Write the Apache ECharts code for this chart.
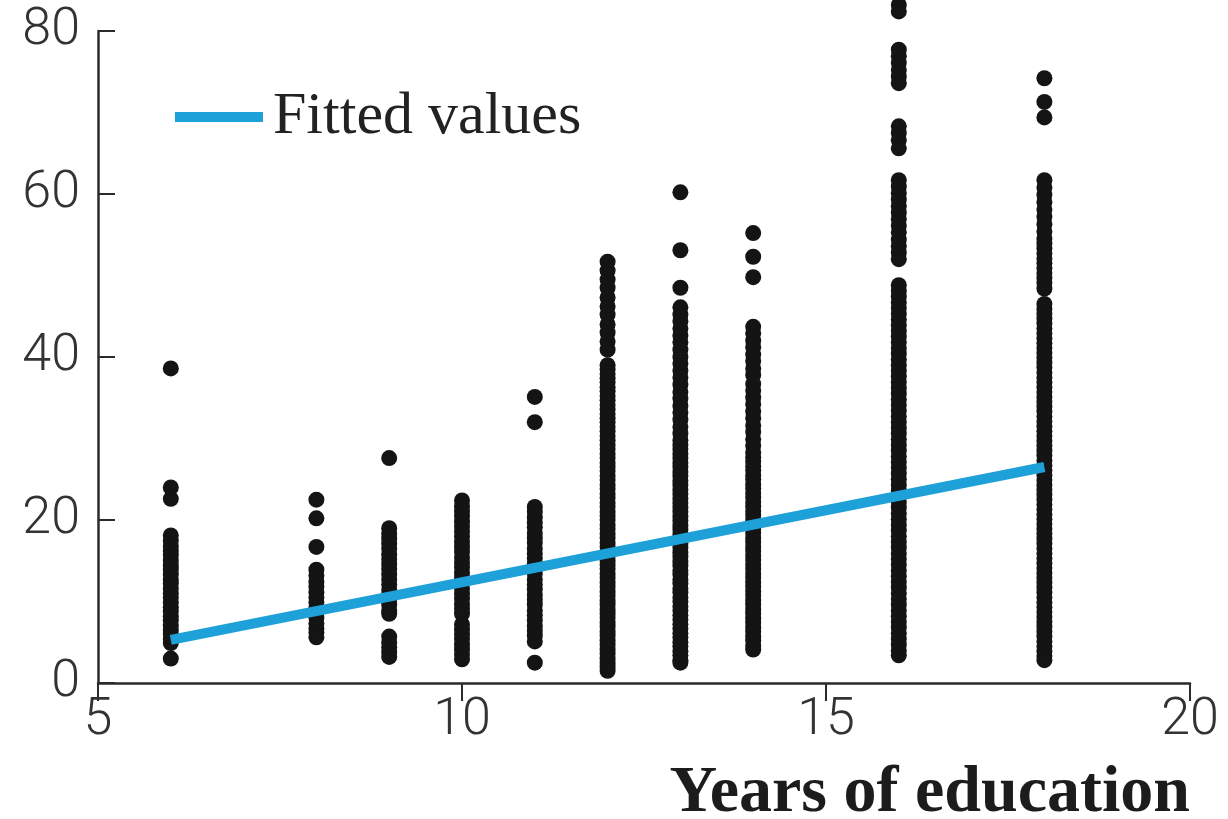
<!DOCTYPE html>
<html>
<head>
<meta charset="utf-8">
<title>Earnings and years of education</title>
<script src="https://cdn.jsdelivr.net/npm/echarts@6/dist/echarts.min.js"></script>
<style>
  html, body { margin: 0; padding: 0; background: #ffffff; }
  #chart { width: 1228px; height: 819px; }
</style>
</head>
<body>
<div id="chart"></div>
<script>
// Hourly earnings observed at each level of schooling
const years = [6, 8, 9, 10, 11, 12, 13, 14, 16, 18];

const earn6 = [38.6, 24.0, 22.6, 18.1, 17.5, 16.8, 16.2, 15.7, 15.0, 14.4, 13.9, 13.3, 12.7, 12.2, 11.6,
  11.0, 10.5, 9.9, 9.3, 8.8, 8.2, 7.7, 7.1, 6.5, 6.0, 5.4, 4.9, 3.0];
const earn8 = [22.5, 20.2, 16.7, 13.9, 13.2, 12.4, 11.8, 11.1, 10.5, 9.9, 9.2, 8.6, 8.0, 7.3, 6.7,
  6.2, 5.6];
const earn9 = [27.6, 19.0, 18.3, 17.7, 17.1, 16.5, 15.8, 15.2, 14.6, 14.0, 13.3, 12.7, 12.1, 11.4,
  10.8, 10.2, 9.6, 8.9, 8.5, 5.7, 5.0, 4.4, 3.8, 3.2];
const earn10 = [22.4, 21.7, 21.1, 20.5, 19.8, 19.2, 18.6, 18.0, 17.3, 16.7, 16.1, 15.4, 14.8, 14.2,
  13.5, 12.9, 12.3, 11.6, 11.0, 10.4, 9.7, 9.1, 8.5, 7.2, 6.6, 6.0, 5.4, 4.7, 4.1, 3.5, 2.9];
const earn11 = [35.1, 32.0, 21.6, 21.0, 20.3, 19.7, 19.1, 18.4, 17.8, 17.2, 16.5, 15.9, 15.3, 14.6,
  14.0, 13.4, 12.7, 12.1, 11.5, 10.8, 10.2, 9.6, 8.9, 8.3, 7.7, 7.0, 6.4, 5.8, 5.1, 2.5];
const earn12 = [51.7, 50.6, 49.5, 48.5, 47.3, 46.2, 45.2, 44.0, 43.0, 41.9, 40.9,
  39.0, 38.5, 37.9, 37.4, 36.9, 36.3, 35.8, 35.2, 34.7, 34.1, 33.6, 33.0, 32.5, 32.0, 31.4, 30.9,
  30.3, 29.8, 29.2, 28.7, 28.1, 27.6, 27.0, 26.5, 26.0, 25.4, 24.9, 24.3, 23.8, 23.2, 22.7, 22.1,
  21.6, 21.0, 20.5, 20.0, 19.4, 18.9, 18.3, 17.8, 17.2, 16.7, 16.1, 15.6, 15.0, 14.5, 14.0, 13.4,
  12.9, 12.3, 11.8, 11.2, 10.7, 10.1, 9.6, 9.0, 8.5, 8.0, 7.4, 6.9, 6.3, 5.8, 5.2, 4.7, 4.1, 3.6,
  3.0, 2.5, 2.0, 1.5];
const earn13 = [60.2, 53.1, 48.5, 46.1, 45.2, 44.4, 43.5, 42.6, 41.8, 40.9, 40.0, 39.2, 38.3, 37.5,
  36.6, 35.7, 34.9, 34.0, 33.2, 32.3, 31.4, 30.6, 29.8, 29.2, 28.7, 28.1, 27.6, 27.0, 26.5, 25.9,
  25.4, 24.8, 24.3, 23.7, 23.2, 22.6, 22.1, 21.5, 21.0, 20.4, 19.9, 19.3, 18.8, 18.2, 17.7, 17.1,
  16.6, 16.0, 15.5, 14.9, 14.4, 13.8, 13.3, 12.7, 12.2, 11.6, 11.1, 10.5, 10.0, 9.4, 8.9, 8.3,
  7.8, 7.2, 6.7, 6.1, 5.6, 5.0, 4.5, 3.9, 3.4, 2.8, 2.5];
const earn14 = [55.2, 52.3, 49.8, 43.7, 42.9, 42.0, 41.2, 40.3, 39.5, 38.6, 37.8, 36.7, 35.9, 35.0,
  34.2, 33.3, 32.5, 31.6, 30.8, 29.9, 29.1, 28.3, 27.7, 27.2, 26.6, 26.1, 25.5, 25.0, 24.4, 23.9,
  23.3, 22.8, 22.2, 21.7, 21.1, 20.6, 20.0, 19.5, 18.9, 18.4, 17.8, 17.3, 16.7, 16.2, 15.6, 15.1,
  14.5, 14.0, 13.4, 12.9, 12.3, 11.8, 11.2, 10.7, 10.1, 9.6, 9.0, 8.5, 7.9, 7.4, 6.8, 6.3, 5.7,
  5.2, 4.6, 4.1];
const earn16 = [83.2, 82.4, 77.7, 76.9, 76.1, 75.2, 74.4, 73.6, 68.3, 67.5, 66.6, 65.6,
  61.7, 60.9, 60.1, 59.3, 58.5, 57.7, 56.9, 56.1, 55.3, 54.4, 53.6, 52.8, 52.0,
  48.8, 48.1, 47.4, 46.7, 46.0, 45.3, 44.6, 43.9, 43.2, 42.5, 41.8, 41.1, 40.4, 39.7, 39.0, 38.3,
  37.6, 36.9, 36.2, 35.5, 34.8, 34.1, 33.4, 32.7, 32.0, 31.3, 30.6, 29.9, 29.2, 28.5, 27.8, 27.1,
  26.4, 25.7, 25.0, 24.3, 23.6, 22.9, 22.2, 21.5, 20.8, 20.1, 19.4, 18.7, 18.0, 17.3, 16.6, 15.9,
  15.2, 14.5, 13.8, 13.1, 12.4, 11.7, 11.0, 10.3, 9.6, 8.9, 8.2, 7.5, 6.8, 6.1, 5.4, 4.7, 4.0, 3.4];
const earn18 = [74.2, 71.3, 69.4, 61.7, 60.8, 59.9, 59.0, 58.1, 57.2, 56.3, 55.4, 54.5, 53.9, 53.3,
  52.7, 52.1, 51.5, 50.9, 50.3, 49.7, 49.1, 48.4, 46.5, 45.9, 45.3, 44.7, 44.1, 43.5, 42.9, 42.3,
  41.7, 41.1, 40.5, 39.9, 39.3, 38.7, 38.1, 37.5, 36.9, 36.3, 35.7, 35.1, 34.5, 33.9, 33.3, 32.7,
  32.1, 31.5, 30.9, 30.3, 29.7, 29.1, 28.5, 27.9, 27.3, 26.7, 26.1, 25.5, 24.9, 24.3, 23.7, 23.1,
  22.5, 21.9, 21.3, 20.7, 20.1, 19.5, 18.9, 18.3, 17.7, 17.1, 16.5, 15.9, 15.3, 14.7, 14.1, 13.5,
  12.9, 12.3, 11.7, 11.1, 10.5, 9.9, 9.3, 8.7, 8.1, 7.5, 6.9, 6.3, 5.7, 5.1, 4.5, 3.9, 3.3, 2.8];

const earningsByYear = [earn6, earn8, earn9, earn10, earn11, earn12, earn13, earn14, earn16, earn18];

// Least-squares fit endpoints
const fitYears = [6, 18];
const fitValues = [5.3, 26.5];

const xTicks = [5, 10, 15, 20];
const yTicks = [0, 20, 40, 60, 80];

const scatterData = [];
years.forEach((yr, i) => {
  earningsByYear[i].forEach(v => scatterData.push([yr, v]));
});
const fitData = fitYears.map((x, i) => [x, fitValues[i]]);

const fitColor = '#1ea1d8';
const inkColor = '#2a2a2a';
const labelFont = 'Roboto, "Open Sans", sans-serif';

const chart = echarts.init(document.getElementById('chart'), null, { renderer: 'canvas' });
chart.setOption({
  backgroundColor: '#ffffff',
  animation: false,
  grid: {
    left: 98, right: 38, top: 31, bottom: 136,
    containLabel: false,
    outerBoundsMode: 'none'
  },
  legend: {
    data: ['Fitted values'],
    left: 170,
    top: 82,
    icon: 'rect',
    itemWidth: 88,
    itemHeight: 10,
    selectedMode: false,
    textStyle: {
      fontFamily: '"Liberation Serif", serif',
      fontSize: 60,
      fontWeight: 'normal',
      color: '#222',
      lineHeight: 60,
      padding: [0, 0, 0, 5]
    }
  },
  xAxis: {
    type: 'value',
    min: xTicks[0],
    max: xTicks[xTicks.length - 1],
    interval: 5,
    name: 'Years of education',
    nameLocation: 'end',
    nameGap: 0,
    nameTextStyle: {
      fontFamily: '"Liberation Serif", serif',
      fontWeight: 'bold',
      fontSize: 66,
      color: '#1c1c1c',
      align: 'right',
      verticalAlign: 'top',
      padding: [78, 0, 0, 0]
    },
    splitLine: { show: false },
    axisLine: { show: true, lineStyle: { color: inkColor, width: 2.5 } },
    axisTick: { show: true, inside: false, length: 18, lineStyle: { color: inkColor, width: 2 } },
    axisLabel: {
      margin: 12,
      fontFamily: labelFont,
      fontWeight: 300,
      fontSize: 52,
      color: '#333',
      formatter: v => (xTicks.includes(v) ? String(v) : '')
    }
  },
  yAxis: {
    type: 'value',
    min: yTicks[0],
    max: yTicks[yTicks.length - 1],
    interval: 20,
    splitLine: { show: false },
    axisLine: { show: true, lineStyle: { color: inkColor, width: 2.5 } },
    axisTick: { show: true, inside: true, length: 17, lineStyle: { color: inkColor, width: 2 } },
    axisLabel: {
      margin: 18,
      fontFamily: labelFont,
      fontWeight: 300,
      fontSize: 52,
      color: '#333',
      formatter: v => (yTicks.includes(v) ? String(v) : '')
    }
  },
  series: [
    {
      name: 'Earnings',
      type: 'scatter',
      data: scatterData,
      symbol: 'circle',
      symbolSize: 16,
      clip: false,
      itemStyle: { color: '#141414', opacity: 1 },
      z: 2
    },
    {
      name: 'Fitted values',
      type: 'line',
      data: fitData,
      symbol: 'none',
      lineStyle: { color: fitColor, width: 10, cap: 'butt' },
      itemStyle: { color: fitColor },
      z: 3
    }
  ]
});
</script>
</body>
</html>
